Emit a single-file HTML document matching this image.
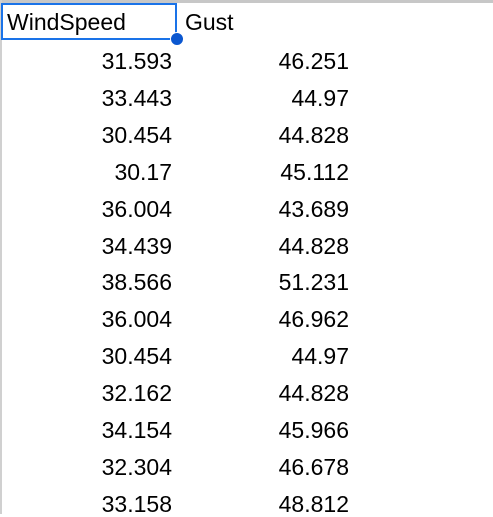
<!DOCTYPE html>
<html><head><meta charset="utf-8"><style>
body{margin:0;width:493px;height:514px;overflow:hidden;background:#fff;font-family:"Liberation Sans",Arial,sans-serif;position:relative}
.top{position:absolute;left:0;top:0;width:493px;height:3px;background:#c7c7c7}
.left{position:absolute;left:0;top:0;width:2px;height:514px;background:#d0d0d0}
.c{position:absolute;font-size:23px;color:#000;line-height:26px;white-space:nowrap}
.r1{right:321px}.r2{right:144px}
.sel{position:absolute;left:1px;top:3px;width:172px;height:33px;border:2px solid #1a73e8}
.handle{position:absolute;left:170px;top:32px;width:12px;height:12px;border-radius:50%;background:#0b57d0;border:1px solid #fff}
</style></head><body>
<div class="top"></div>
<div class="left"></div>
<div class="c" style="left:7px;top:9px">WindSpeed</div>
<div class="c" style="left:185px;top:9px">Gust</div>
<div class="sel"></div>
<div class="handle"></div>
<div id="rows"></div>
<script>
const wind=["31.593","33.443","30.454","30.17","36.004","34.439","38.566","36.004","30.454","32.162","34.154","32.304","33.158"];
const gust=["46.251","44.97","44.828","45.112","43.689","44.828","51.231","46.962","44.97","44.828","45.966","46.678","48.812"];
const box=document.getElementById('rows');
wind.forEach((w,i)=>{
  const y=48+i*36.9;
  const a=document.createElement('div');a.className='c r1';a.style.top=y+'px';a.textContent=w;
  
  
  box.appendChild(a);
  const b=document.createElement('div');b.className='c r2';b.style.top=y+'px';b.textContent=gust[i];
  
  
  box.appendChild(b);
});
</script>
</body></html>
